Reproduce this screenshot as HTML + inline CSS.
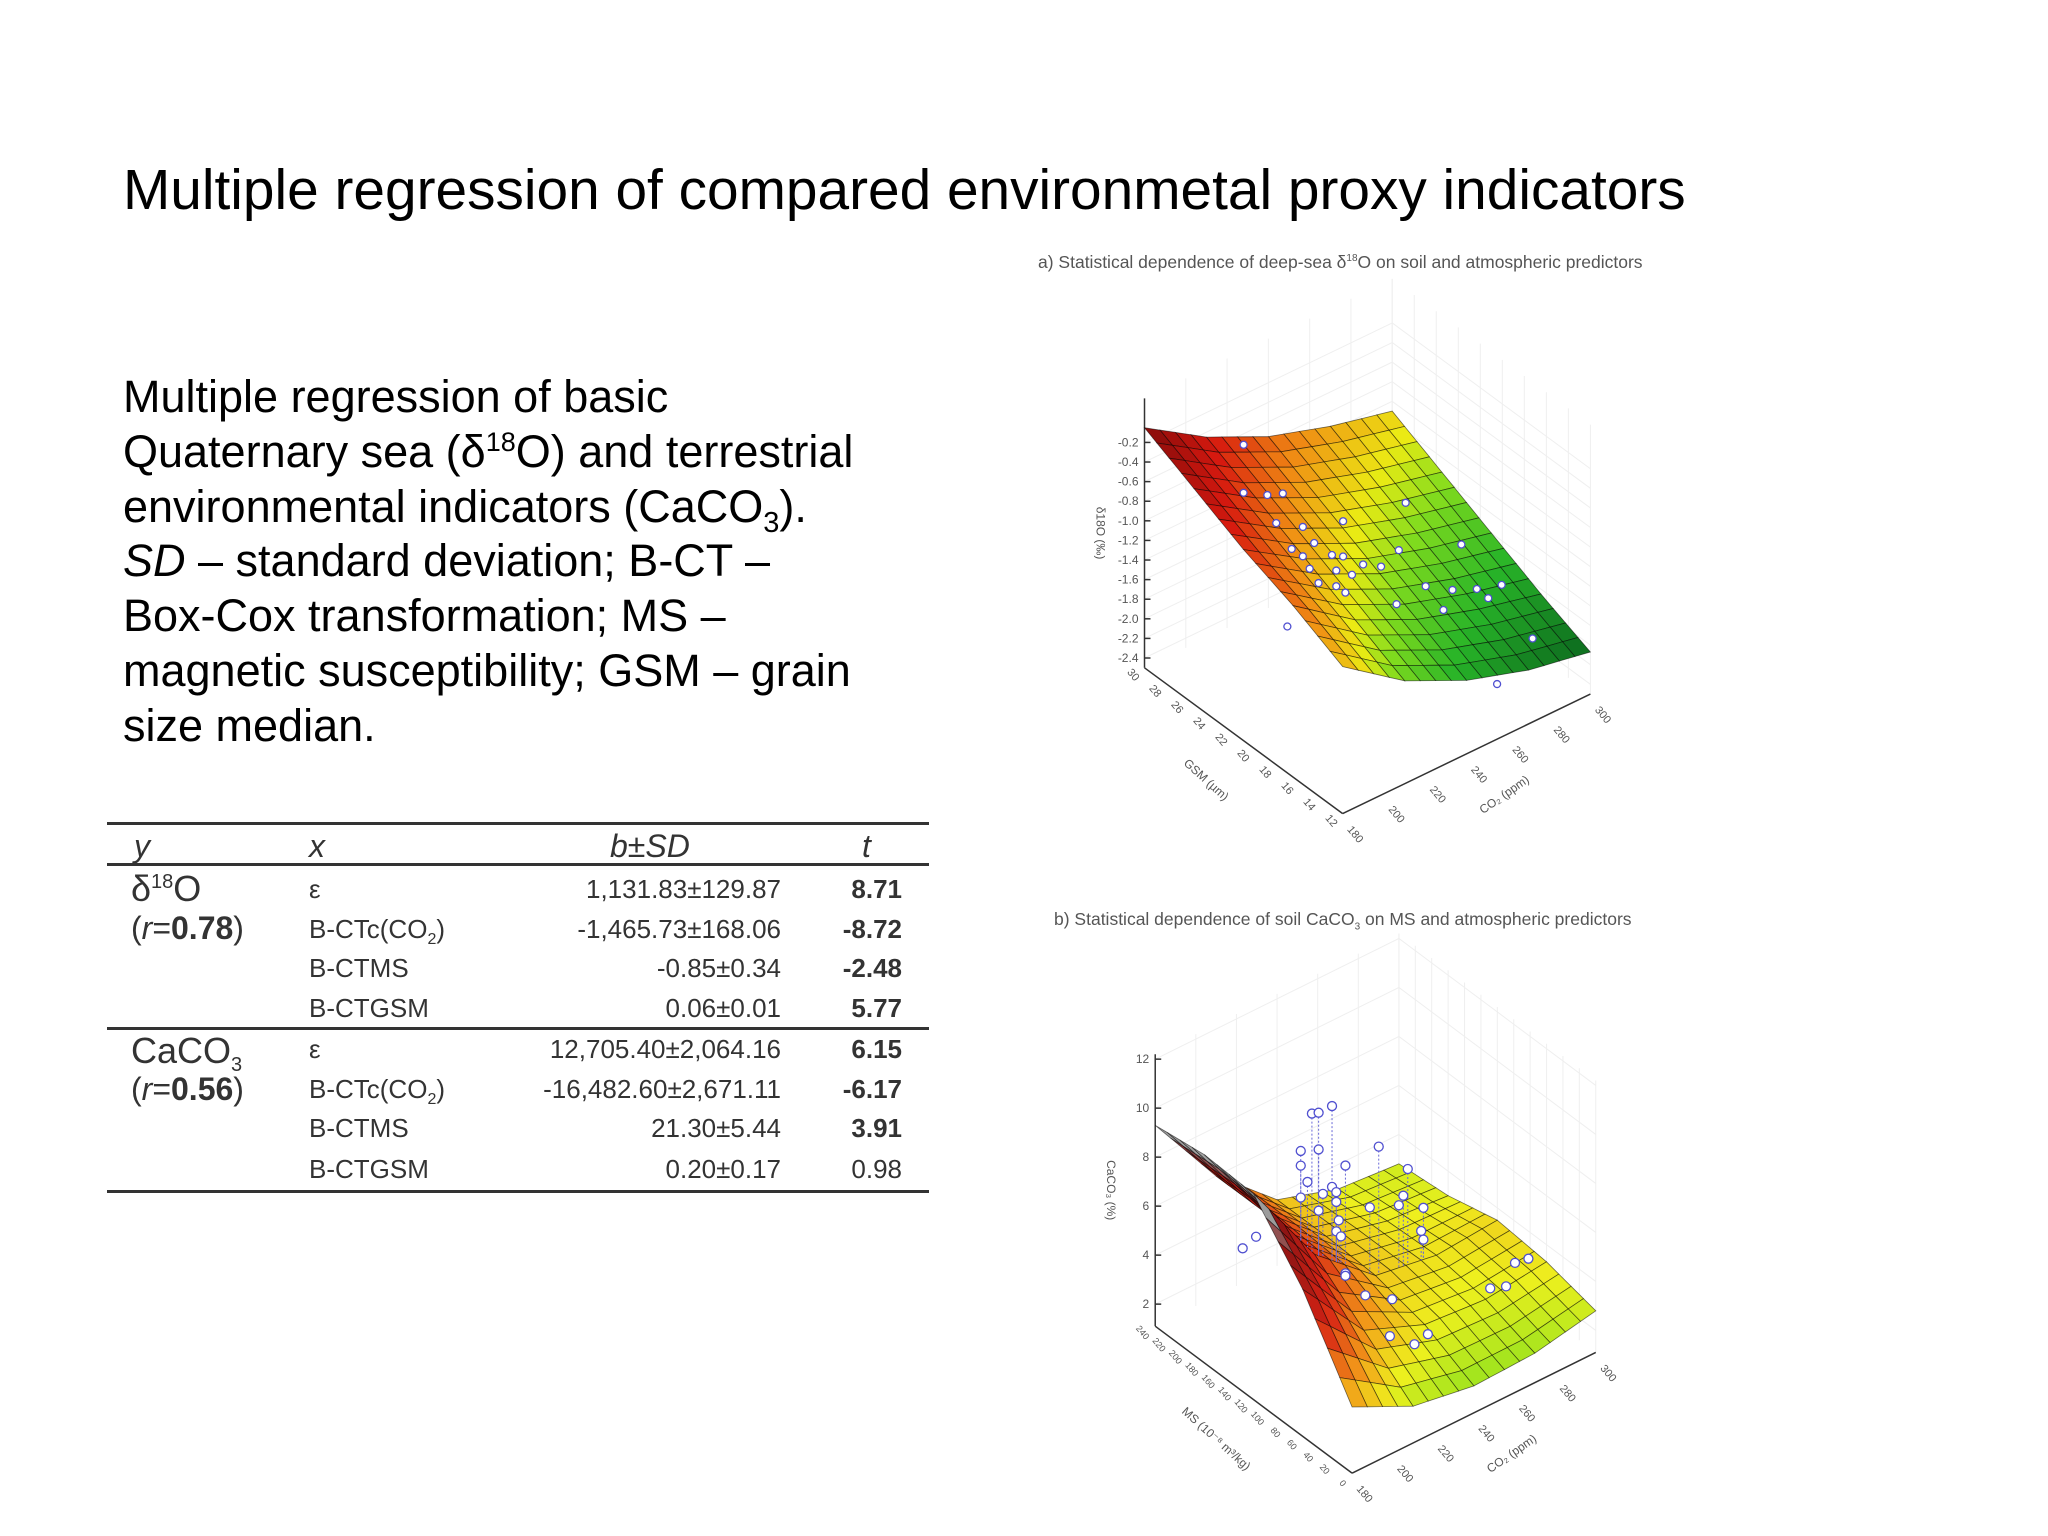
<!DOCTYPE html>
<html><head><meta charset="utf-8"><style>
body{margin:0;background:#fff;}
#page{position:relative;width:2048px;height:1536px;overflow:hidden;background:#fff;font-family:"Liberation Sans",sans-serif;color:#000;}
.t{position:absolute;white-space:nowrap;}
#tbl div{position:absolute;white-space:nowrap;font-size:26px;color:#333;}
.r{text-align:right;}
.hl{position:absolute;left:107px;width:822px;height:3px;background:#333;}
sup,sub{line-height:0;}
</style></head><body>
<div id="page">
<div class="t" style="left:123px;top:158px;font-size:56.8px;">Multiple regression of compared environmetal proxy indicators</div>
<div class="t" style="left:123px;top:370px;font-size:45px;line-height:54.8px;white-space:normal;width:900px;">Multiple regression of basic<br>Quaternary sea (δ<sup style="font-size:27px">18</sup>O) and terrestrial<br>environmental indicators (CaCO<sub style="font-size:29px">3</sub>).<br><i>SD</i> – standard deviation; B-CT –<br>Box-Cox transformation; MS –<br>magnetic susceptibility; GSM – grain<br>size median.</div>

<div id="tbl">
<div class="hl" style="top:822px"></div>
<div class="hl" style="top:863px"></div>
<div class="hl" style="top:1027px"></div>
<div class="hl" style="top:1190px"></div>
<div style="left:134px;top:828px;font-size:32px;font-style:italic">y</div>
<div style="left:309px;top:828px;font-size:32px;font-style:italic">x</div>
<div style="left:610px;top:828px;font-size:32px;font-style:italic">b±SD</div>
<div style="left:862px;top:828px;font-size:32px;font-style:italic">t</div>
<div style="left:131px;top:868px;font-size:36px">δ<sup style="font-size:20px">18</sup>O</div>
<div style="left:131px;top:910px;font-size:32px">(<i>r</i>=<b>0.78</b>)</div>
<div style="left:131px;top:1030px;font-size:36px">CaCO<sub style="font-size:20px">3</sub></div>
<div style="left:131px;top:1071px;font-size:32px">(<i>r</i>=<b>0.56</b>)</div>
<div style="left:309px;top:874px">ε</div><div class="r" style="left:560px;width:221px;top:874px">1,131.83±129.87</div><div class="r" style="left:820px;width:82px;top:874px;font-weight:bold">8.71</div>
<div style="left:309px;top:914px">B-CTc(CO<sub style="font-size:16px">2</sub>)</div><div class="r" style="left:500px;width:281px;top:914px">-1,465.73±168.06</div><div class="r" style="left:820px;width:82px;top:914px;font-weight:bold">-8.72</div>
<div style="left:309px;top:953px">B-CTMS</div><div class="r" style="left:560px;width:221px;top:953px">-0.85±0.34</div><div class="r" style="left:820px;width:82px;top:953px;font-weight:bold">-2.48</div>
<div style="left:309px;top:993px">B-CTGSM</div><div class="r" style="left:560px;width:221px;top:993px">0.06±0.01</div><div class="r" style="left:820px;width:82px;top:993px;font-weight:bold">5.77</div>
<div style="left:309px;top:1034px">ε</div><div class="r" style="left:500px;width:281px;top:1034px">12,705.40±2,064.16</div><div class="r" style="left:820px;width:82px;top:1034px;font-weight:bold">6.15</div>
<div style="left:309px;top:1074px">B-CTc(CO<sub style="font-size:16px">2</sub>)</div><div class="r" style="left:480px;width:301px;top:1074px">-16,482.60±2,671.11</div><div class="r" style="left:820px;width:82px;top:1074px;font-weight:bold">-6.17</div>
<div style="left:309px;top:1113px">B-CTMS</div><div class="r" style="left:560px;width:221px;top:1113px">21.30±5.44</div><div class="r" style="left:820px;width:82px;top:1113px;font-weight:bold">3.91</div>
<div style="left:309px;top:1154px">B-CTGSM</div><div class="r" style="left:560px;width:221px;top:1154px">0.20±0.17</div><div class="r" style="left:820px;width:82px;top:1154px">0.98</div>
</div>

<div class="t" style="left:1038px;top:252px;font-size:17.5px;color:#555">a) Statistical dependence of deep-sea δ<sup style="font-size:10px">18</sup>O on soil and atmospheric predictors</div>
<div class="t" style="left:1054px;top:909px;font-size:17.5px;color:#555">b) Statistical dependence of soil CaCO<sub style="font-size:10px">3</sub> on MS and atmospheric predictors</div>

<svg id="svg" width="2048" height="1536" style="position:absolute;left:0;top:0"></svg>
</div>
<script>
// ---- Chart A data ----
const co2GridA=[180,210,240,270,300];
const gsmGridA=[12,16.5,21,25.5,30];
const zGridA=[
[-1.0,-1.45,-1.75,-1.95,-2.07],
[-0.75,-1.2,-1.5,-1.7,-1.85],
[-0.55,-0.95,-1.25,-1.45,-1.6],
[-0.3,-0.7,-1.0,-1.2,-1.35],
[-0.05,-0.45,-0.75,-0.95,-1.1]];
const ptsCo2A=[180,180,191.5,199,195.8,208.7,214.2,228.2,203.3,208.7,222.8,228.2,212,224.9,232.5,216.3,224.9,229.3,237.9,246.6,255.2,258.5,285.5,268.2,281.2,293,305,298.5,254.1,276.8,320,201.2,302.8];
const ptsGsmA=[21,21,21,21,21,21,21,21,21,21,21,21,21,21,21,21,21,21,21,21,21,21,21,21,21,21,21,21,21,21,21,21,21];
const ptsD18A=[0.52,0.03,-0.11,-0.17,-0.44,-0.61,-0.83,-0.75,-0.78,-0.91,-1.04,-1.11,-1.07,-1.22,-1.34,-1.26,-1.38,-1.49,-1.29,-1.40,-1.32,-0.87,-1.57,-1.82,-1.99,-2.10,-2.18,-2.25,-1.86,-2.15,-2.88,-1.55,-3.17];
const zTicksA=[-2.4,-2.2,-2.0,-1.8,-1.6,-1.4,-1.2,-1.0,-0.8,-0.6,-0.4,-0.2];
const gsmTicksA=[12,14,16,18,20,22,24,26,28,30];
const co2TicksA=[180,200,220,240,260,280,300];
// ---- Chart B data ----
const co2GridB=[180,210,240,270,300];
const msGridB=[0,60,120,180,240];
const zGridB=[
[3.8,2.6,2.2,2.3,2.8],
[7.1,4.2,3.2,3.0,3.3],
[9.5,5.8,3.7,3.3,3.5],
[9.6,6.0,3.8,3.2,3.0],
[9.3,6.0,3.8,3.0,2.8]];
const ptsCo2B=[208.7,212,218.6,203.2,212,241.6,225.2,203.2,206.5,255.9,218.6,220.7,214.1,203.2,220.7,253.7,251.5,237.2,263.6,212,221.9,220.7,223,262.5,263.6,174.6,181.2,225.2,225.2,235,248.2,308.7,315.3,296.5,304.3,247.1,265.8,259.2];
const ptsMsB=[120,120,120,120,120,120,120,120,120,120,120,120,120,120,120,120,120,120,120,120,120,120,120,120,120,120,120,120,120,120,120,120,120,120,120,120,120,120];
const ptsCaB=[11.6,11.5,11.5,10.3,10.0,8.9,8.8,9.7,8.9,7.4,8.2,7.9,8.1,8.4,7.5,6.4,6.1,6.6,5.5,7.5,6.7,6.3,6.0,4.6,4.2,7.5,7.7,4.4,4.3,3.1,2.4,1.4,1.3,0.86,0.62,0.94,0.25,0.11];
const zTicksB=[2,4,6,8,10,12];
const msTicksB=[0,20,40,60,80,100,120,140,160,180,200,220,240];
const co2TicksB=[180,200,220,240,260,280,300];

const NS='http://www.w3.org/2000/svg';
const svg=document.getElementById('svg');
function mk(tag,attrs,parent){const e=document.createElementNS(NS,tag);for(const k in attrs)e.setAttribute(k,attrs[k]);(parent||svg).appendChild(e);return e;}
function projA(c,g,z){const X=1262+(c-180)/120*185-(g-12)/18*148;const Y=720-(c-180)/120*100-(g-12)/18*122-(z+2.5)*82;return[1024+(X-1024)*1.339,240+(Y-240)*1.195];}
function projB(c,m,z){const X=1269+(c-180)/120*182-m/240*147;const Y=1378-(c-180)/120*101-m/240*123-(z-1.1)*20.5;return[1024+(X-1024)*1.339,890+(Y-890)*1.195];}
function lerpCol(stops,t){t=Math.max(0,Math.min(1,t));for(let i=1;i<stops.length;i++){if(t<=stops[i][0]){const a=stops[i-1],b=stops[i];const f=(t-a[0])/(b[0]-a[0]);const c=[0,1,2].map(k=>Math.round(a[1][k]+(b[1][k]-a[1][k])*f));return'rgb('+c.join(',')+')';}}const l=stops[stops.length-1][1];return'rgb('+l.join(',')+')';}
const stopsA=[[0,[10,100,30]],[0.2,[40,180,40]],[0.35,[130,220,30]],[0.45,[235,235,20]],[0.6,[240,140,20]],[0.78,[215,25,15]],[1,[130,10,10]]];
const stopsB=[[0,[50,205,30]],[0.17,[160,228,30]],[0.27,[238,240,30]],[0.4,[242,150,25]],[0.58,[215,35,20]],[0.82,[140,20,20]],[0.88,[150,150,150]],[1,[170,170,170]]];
function bil(grid,xs,ys,x,y){
  let i=0;while(i<xs.length-2&&x>xs[i+1])i++;let j=0;while(j<ys.length-2&&y>ys[j+1])j++;
  const fx=Math.max(0,Math.min(1,(x-xs[i])/(xs[i+1]-xs[i]))),fy=Math.max(0,Math.min(1,(y-ys[j])/(ys[j+1]-ys[j])));
  return grid[j][i]*(1-fx)*(1-fy)+grid[j][i+1]*fx*(1-fy)+grid[j+1][i]*(1-fx)*fy+grid[j+1][i+1]*fx*fy;}

function drawChart(cfg){
  const g=mk('g',{});
  
  
  const P=cfg.proj;
  const c0=cfg.cx[0],c1=cfg.cx[cfg.cx.length-1],y0=cfg.cy[0],y1=cfg.cy[cfg.cy.length-1];
  const walls=mk('g',{stroke:'#efefef','stroke-width':1,fill:'none'},g);
  
  
  cfg.zTicks.forEach(z=>{const a=P(c0,y1,z),b=P(c1,y1,z),d=P(c1,y0,z);mk('polyline',{points:a+' '+b+' '+d},walls);});
  cfg.cTicks.forEach(c=>{const a=P(c,y1,cfg.zMin),b=P(c,y1,cfg.zMax);mk('line',{x1:a[0],y1:a[1],x2:b[0],y2:b[1]},walls);});
  cfg.yTicks.forEach(v=>{const a=P(c1,v,cfg.zMin),b=P(c1,v,cfg.zMax);mk('line',{x1:a[0],y1:a[1],x2:b[0],y2:b[1]},walls);});
  const ax=mk('g',{stroke:'#333','stroke-width':1.5,fill:'none'},g);
  
  
  let a=P(c0,y1,cfg.zMin),b=P(c0,y1,cfg.zMax);mk('line',{x1:a[0],y1:a[1],x2:b[0],y2:b[1]},ax);
  a=P(c0,y0,cfg.zMin);b=P(c0,y1,cfg.zMin);mk('line',{x1:a[0],y1:a[1],x2:b[0],y2:b[1]},ax);
  b=P(c1,y0,cfg.zMin);mk('line',{x1:a[0],y1:a[1],x2:b[0],y2:b[1]},ax);
  cfg.zTicks.forEach(z=>{const p=P(c0,y1,z);mk('line',{x1:p[0],y1:p[1],x2:p[0]+6,y2:p[1]},ax);
    const t=mk('text',{x:p[0]-6,y:p[1]+4,'font-size':12,fill:'#555','text-anchor':'end','font-family':'Liberation Sans'},g);t.textContent=cfg.zFmt(z);
    
    });
  cfg.yTicks.forEach(v=>{const p=P(c0,v,cfg.zMin);
    const t=mk('text',{x:p[0]-10,y:p[1]+14,'font-size':cfg.yFs,fill:'#555','text-anchor':'end','font-family':'Liberation Sans',transform:'rotate(50 '+(p[0]-10)+' '+(p[1]+14)+')'},g);t.textContent=v;
    
    });
  cfg.cTicks.forEach(v=>{const p=P(v,y0,cfg.zMin);
    const t=mk('text',{x:p[0]+4,y:p[1]+16,'font-size':11,fill:'#555','font-family':'Liberation Sans',transform:'rotate(50 '+(p[0]+4)+' '+(p[1]+16)+')'},g);t.textContent=v;
    
    });
  let p=P(c0,y1,(cfg.zMin+cfg.zMax)/2);
  let t=mk('text',{x:p[0]-48,y:p[1],'font-size':12,fill:'#555','text-anchor':'middle','font-family':'Liberation Sans',transform:'rotate(90 '+(p[0]-48)+' '+p[1]+')'},g);t.textContent=cfg.zTitle;
  
  
  p=P(c0,(y0+y1)/2,cfg.zMin);
  t=mk('text',{x:p[0]-40,y:p[1]+42,'font-size':12,fill:'#555','text-anchor':'middle','font-family':'Liberation Sans',transform:'rotate(42 '+(p[0]-40)+' '+(p[1]+42)+')'},g);t.textContent=cfg.yTitle;
  
  
  p=P((c0+c1)/2,y0,cfg.zMin);
  t=mk('text',{x:p[0]+40,y:p[1]+44,'font-size':12,fill:'#555','text-anchor':'middle','font-family':'Liberation Sans',transform:'rotate(-35 '+(p[0]+40)+' '+(p[1]+44)+')'},g);t.textContent='CO₂ (ppm)';
  
  
  const N=16;const surf=mk('g',{stroke:'rgba(0,0,0,0.55)','stroke-width':0.8},g);
  
  
  const cells=[];
  for(let j=0;j<N;j++)for(let i=0;i<N;i++)cells.push([i,j]);
  cells.sort((A,B)=>(B[0]+B[1])-(A[0]+A[1]));
  const cv=k=>c0+(c1-c0)*k/N, yv=k=>y0+(y1-y0)*k/N;
  const Z=(c,y)=>bil(cfg.grid,cfg.cx,cfg.cy,c,y);
  cells.forEach(([i,j])=>{
    const pts=[[i,j],[i+1,j],[i+1,j+1],[i,j+1]].map(([a,b])=>P(cv(a),yv(b),Z(cv(a),yv(b))));
    const zc=Z(cv(i+0.5),yv(j+0.5));
    const poly=mk('polygon',{points:pts.map(q=>q[0].toFixed(1)+','+q[1].toFixed(1)).join(' '),fill:lerpCol(cfg.stops,(zc-cfg.cMin)/(cfg.cMax-cfg.cMin))},surf);
    
    
  });
  const pg=mk('g',{},g);
  
  
  cfg.pc.forEach((c,k)=>{
    const y=cfg.py[k],z=cfg.pz[k];const q=P(c,y,z);
    if(cfg.stems){const zs=Z(c,y);if(z>zs+0.3){const s=P(c,y,zs);const ln=mk('line',{x1:q[0],y1:q[1],x2:s[0],y2:s[1],stroke:'#6a6ad8','stroke-width':1,'stroke-dasharray':'2,2'},pg);
      
      }}
    const ci=mk('circle',{cx:q[0],cy:q[1],r:cfg.r,fill:'#fff',stroke:'#5050d0','stroke-width':1.3},pg);
    
    
  });
}
drawChart({name:'chart-a-surface',proj:projA,cx:co2GridA,cy:gsmGridA,grid:zGridA,zMin:-2.5,zMax:0.25,zTicks:zTicksA,yTicks:gsmTicksA,cTicks:co2TicksA,yFs:11,
  zFmt:z=>z.toFixed(1),zTitle:'δ18O (‰)',yTitle:'GSM (µm)',stops:stopsA,cMin:-2.1,cMax:-0.05,pc:ptsCo2A,py:ptsGsmA,pz:ptsD18A,stems:false,r:3.5});
drawChart({name:'chart-b-surface',proj:projB,cx:co2GridB,cy:msGridB,grid:zGridB,zMin:1.1,zMax:12.2,zTicks:zTicksB,yTicks:msTicksB,cTicks:co2TicksB,yFs:9,
  zFmt:z=>String(z),zTitle:'CaCO₃ (%)',yTitle:'MS (10⁻⁸ m³/kg)',stops:stopsB,cMin:0.8,cMax:9.5,pc:ptsCo2B,py:ptsMsB,pz:ptsCaB,stems:true,r:4.5});
</script>
</body></html>
